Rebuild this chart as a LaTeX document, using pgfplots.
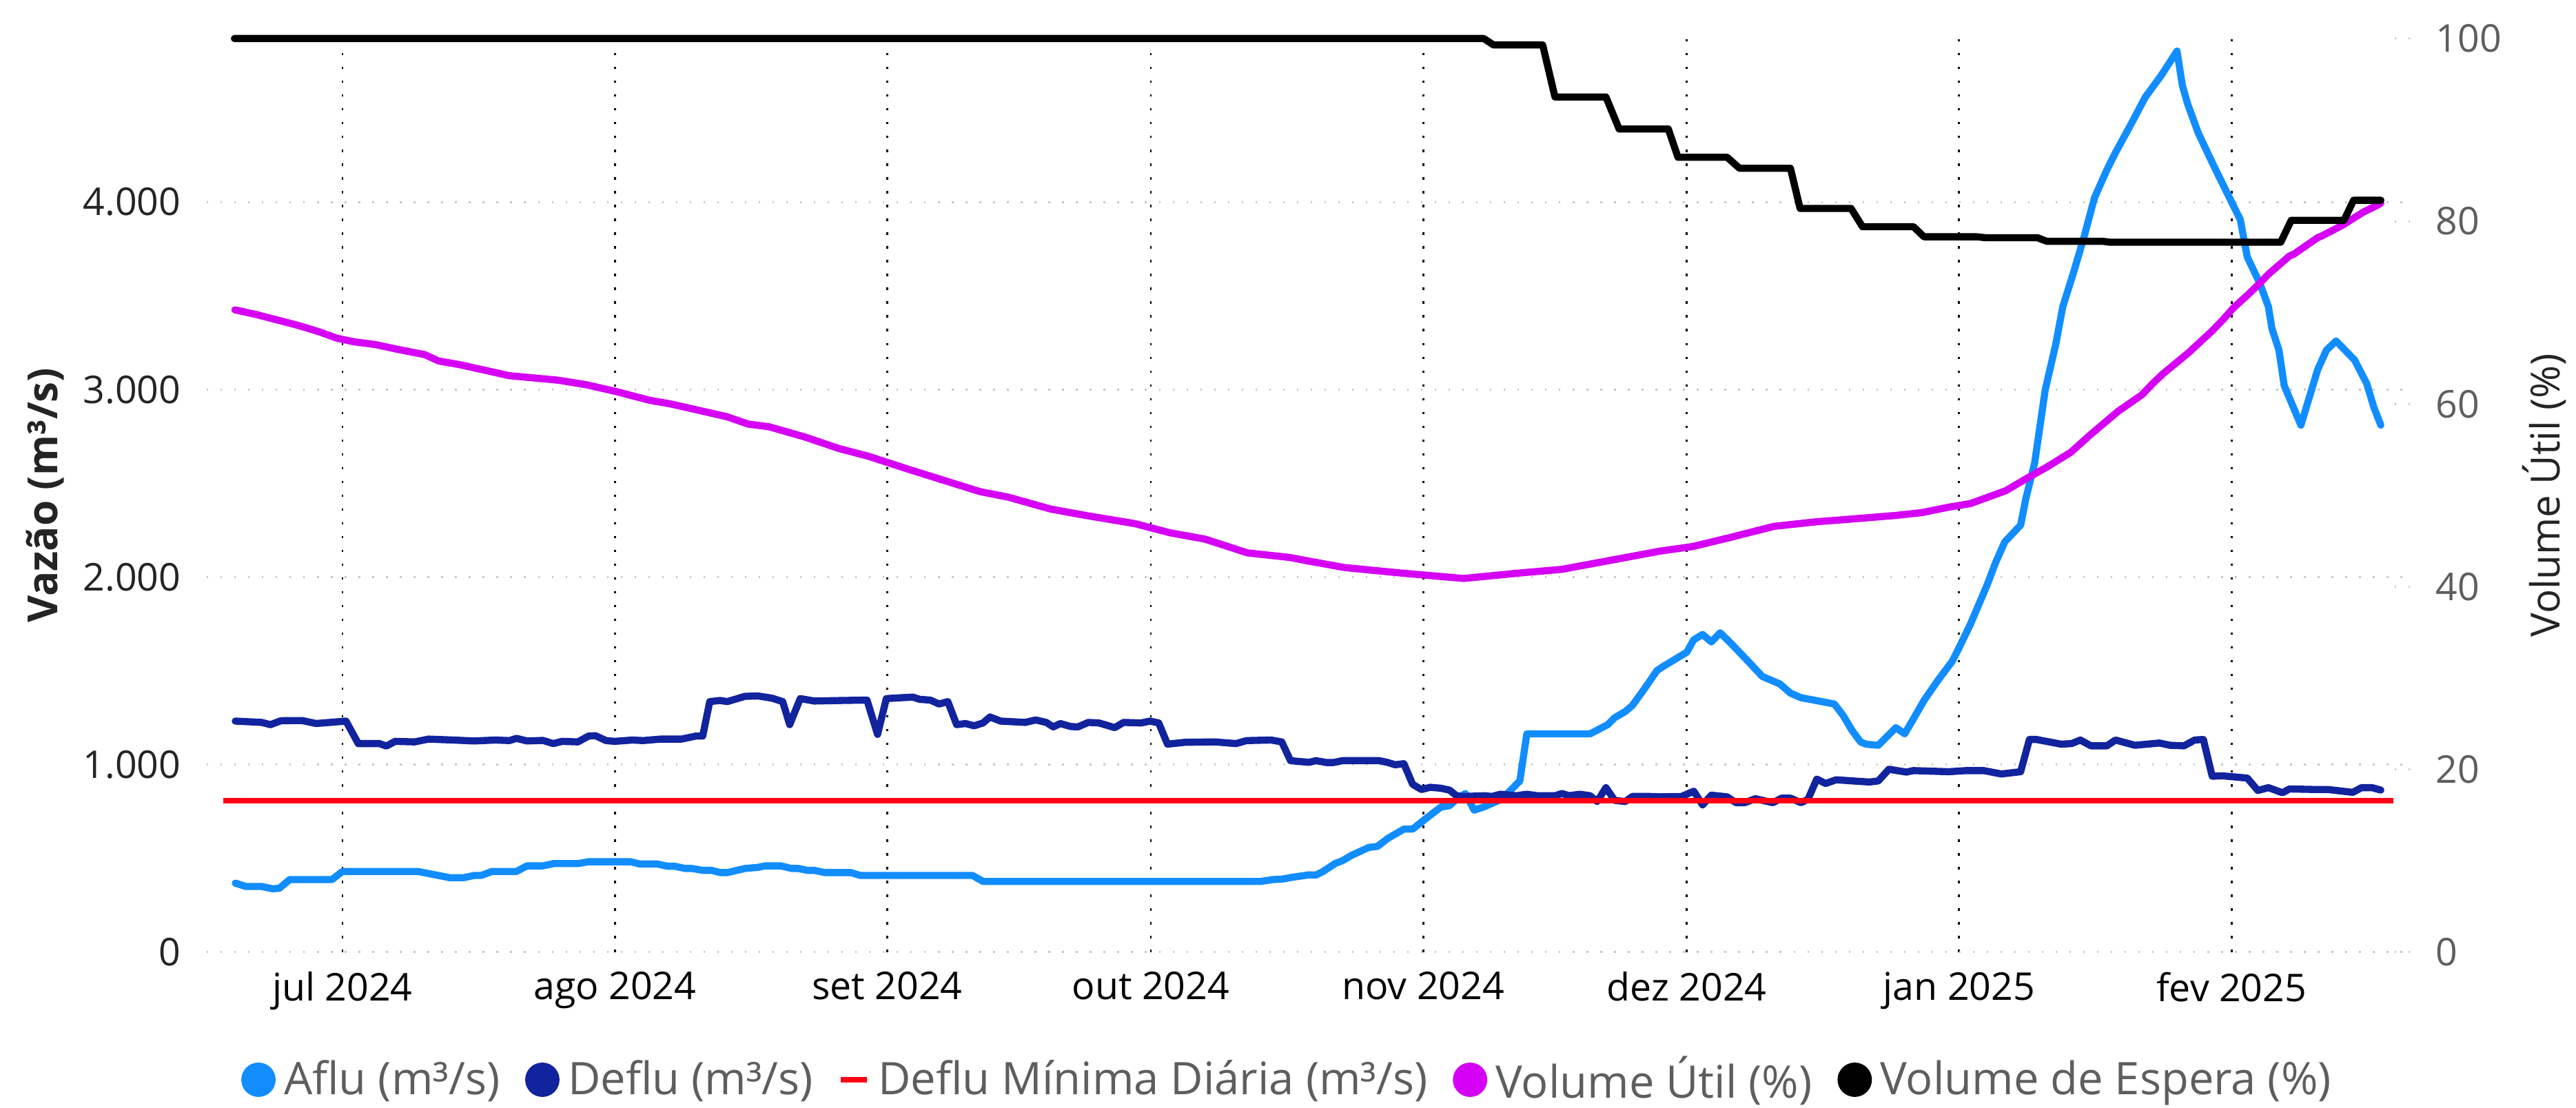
\documentclass[border=0pt]{standalone}
\usepackage{fontspec}
\setmainfont{Open Sans}
\usepackage{pgfplots}
\pgfplotsset{compat=1.18}
\definecolor{aflu}{HTML}{118DFF}
\definecolor{deflu}{HTML}{12239E}
\definecolor{dmin}{HTML}{FF0014}
\definecolor{vutil}{HTML}{D500F5}
\definecolor{vesp}{HTML}{000000}
\definecolor{tickgray}{HTML}{605E5C}
\definecolor{dark}{HTML}{252423}
\pgfplotsset{
  circleleg/.style={legend image code/.code={\fill (4.2pt,0pt) circle (4.2pt);}},
  dashleg/.style={legend image code/.code={\draw[line width=1.5pt,line cap=butt] (0pt,0pt) -- (8.1pt,0pt);}},
  serie/.style={line width=2.2pt, line join=round, line cap=round, mark=none},
}
\begin{document}
\begin{tikzpicture}
\path[use as bounding box] (-63.83pt,-48.09pt) rectangle (731.5pt,294.0pt);
\begin{axis}[
  at={(0pt,0pt)}, anchor=south west,
  width=680.2pt, height=282.1pt, scale only axis,
  xmin=-15.45, xmax=235.3, ymin=0, ymax=4872,
  axis line style={draw=none},
  tick style={draw=none},
  xtick={0,31,62,92,123,153,184,215},
  xticklabels={jul 2024,ago 2024,set 2024,out 2024,nov 2024,dez 2024,jan 2025,fev 2025},
  ytick={0,1000,2000,3000,4000},
  yticklabels={0,1.000,2.000,3.000,4.000},
  xmajorgrids, ymajorgrids,
  x grid style={black, line width=0.6pt, dash pattern=on 0.7pt off 3.56pt},
  y grid style={black!22, line width=0.65pt, dash pattern=on 0.5pt off 3.76pt},
  xticklabel style={font=\fontsize{11.8}{14}\selectfont, text=black, yshift=-2.6pt},
  yticklabel style={font=\fontsize{11.8}{14}\selectfont, text=dark, xshift=-4.5pt},
  ylabel={\bfseries Vazão (m³/s)},
  ylabel style={at={(axis description cs:-0.0735,0.5)}, anchor=center, font=\fontsize{12.8}{15}\selectfont, text=dark},
]
\addplot[serie, color=aflu] coordinates {
(-12.2,368) (-11,350) (-9.2,350) (-8,338) (-7.2,340) (-6,387) (-1.2,387) (0,430) (8.6,430)
(12.2,397) (13.8,397) (15,409) (15.8,409) (17,430) (19.8,430) (21,460) (22.8,460) (24,472)
(26.8,472) (28,482) (32.8,482) (33.8,470) (35.8,470) (37,458) (37.8,458) (39,446) (39.8,446)
(41,436) (42,436) (43,424) (43.8,424) (45.8,446) (47.3,452) (48.1,460) (49.9,460) (51.1,446)
(51.9,446) (52.9,436) (53.7,436) (54.9,424) (57.9,424) (58.9,409) (71.7,409) (72.9,377)
(104.5,377) (105.9,387) (106.9,389) (108.1,399) (110,412) (110.8,411) (111.6,430) (113,473)
(113.8,487) (114.8,515) (116.8,558) (117.8,564) (119,607) (120.8,656) (121.8,656) (123.2,708)
(125,773) (126,781) (126.8,815) (127.8,846) (128.8,757) (130,776) (131.6,809) (132.4,837)
(134,913) (134.8,1164) (142,1164) (144,1213) (144.8,1250) (146,1283) (146.8,1315) (147.8,1379)
(148.8,1446) (149.6,1501) (150.4,1526) (153,1599) (153.8,1666) (154.8,1694) (155.8,1654)
(156.8,1703) (158,1648) (160,1550) (161.6,1470) (163.6,1430) (164.8,1381) (166,1357)
(169.8,1323) (170.8,1262) (171.8,1183) (172.8,1120) (173.4,1109) (174.8,1103) (176.8,1197)
(177.8,1164) (178.8,1244) (180,1342) (181.6,1450) (183.2,1550) (184,1624) (185.3,1750)
(187.2,1960) (188.2,2083) (189.2,2188) (191,2277) (191.6,2420) (192.6,2610) (193.8,2999)
(195,3242) (195.8,3442) (197,3621) (198.2,3811) (199.4,4022) (200.8,4170) (201.8,4264)
(203.4,4401) (205.2,4560) (207,4675) (208.8,4805) (209.4,4623) (210,4524) (211.2,4370)
(213,4191) (215,4001) (216,3906) (216.8,3706) (218.2,3569) (219.2,3442) (219.6,3326)
(220.4,3210) (221,3021) (222.9,2810) (224.8,3105) (225.8,3210) (226.9,3259) (229,3158)
(230.4,3031) (231.2,2905) (232,2810)
};
\addplot[serie, color=deflu] coordinates {
(-12.2,1232) (-9.2,1225) (-8.2,1213) (-7,1234) (-4.6,1235) (-3,1219) (0.4,1232) (1.8,1112)
(4.2,1112) (5,1099) (6,1124) (8.2,1121) (9.8,1136) (12.6,1131) (15,1126) (17.4,1131) (19,1128)
(19.8,1140) (21,1126) (22.8,1129) (24,1112) (25,1124) (26.8,1121) (28,1152) (28.8,1154)
(30,1128) (31,1124) (33,1131) (34.2,1128) (36.2,1136) (38.6,1136) (40.2,1152) (41,1152)
(41.8,1336) (43,1342) (43.8,1336) (45.8,1364) (47.3,1366) (48.9,1354) (50.1,1336) (50.9,1213)
(52.1,1352) (53.7,1339) (56.9,1342) (59.7,1344) (60.9,1161) (61.9,1352) (64.9,1360) (65.7,1348)
(66.9,1344) (67.9,1323) (68.9,1336) (69.9,1213) (70.9,1219) (71.9,1207) (72.9,1222) (73.7,1254)
(74.9,1232) (77.7,1225) (78.9,1238) (80.1,1225) (80.9,1201) (81.7,1219) (82.9,1203) (83.7,1201)
(84.9,1225) (86.1,1222) (87.9,1197) (88.9,1225) (90.9,1222) (91.9,1232) (92.9,1222) (93.9,1109)
(95.9,1119) (99.3,1121) (101.7,1112) (102.9,1128) (105.7,1131) (106.9,1121) (107.9,1021)
(110,1012) (110.8,1021) (112,1011) (112.8,1011) (113.8,1021) (118,1021) (119,1011) (119.8,999)
(120.8,1005) (121.8,895) (122.8,867) (123.8,879) (125,874) (126,864) (126.8,834) (127.6,830)
(130,834) (130.8,830) (131.8,842) (133.6,834) (134.8,842) (136,834) (138,834) (138.8,846)
(139.6,834) (140.8,842) (142,834) (142.8,803) (143.8,877) (144.8,809) (146,803) (146.8,830)
(148.8,830) (150,828) (152.4,830) (153.8,858) (154.8,785) (155.8,837) (157.6,828) (158.6,797)
(159.6,797) (160.8,818) (162.8,797) (163.8,821) (164.8,821) (166,797) (166.8,815) (167.8,923)
(168.8,899) (170,919) (172.8,910) (173.8,907) (174.8,913) (176,975) (178,960) (178.8,968)
(182.8,962) (184.8,968) (186.8,968) (188.8,950) (191,962) (192,1134) (192.8,1134) (195.6,1109)
(196.8,1112) (197.8,1131) (199,1100) (200.8,1100) (201.8,1131) (204,1103) (206.8,1115)
(208,1103) (209.6,1100) (210.8,1131) (211.8,1134) (212.8,938) (214,940) (216.8,928) (218,862)
(219.2,877) (220.8,850) (221.6,870) (224.8,867) (226,867) (228.8,852) (229.8,877) (231,877)
(232,864)
};
\addplot[line width=1.6pt, line cap=butt, color=dmin, mark=none] coordinates {(-13.6,807) (233.4,807)};
\end{axis}
\begin{axis}[
  at={(0pt,0pt)}, anchor=south west,
  width=680.2pt, height=282.1pt, scale only axis,
  xmin=-15.45, xmax=235.3, ymin=0, ymax=100,
  axis x line=none, axis y line*=right,
  axis line style={draw=none},
  xtick=\empty,
  ytick={0,20,40,60,80,100}, yticklabels={0,20,40,60,80,100},
  tick align=inside, major tick length=5.1pt,
  ytick style={black!22, line width=0.65pt, dash pattern=on 0.5pt off 3.76pt},
  yticklabel style={font=\fontsize{11.8}{14}\selectfont, text=tickgray, xshift=4.5pt},
  ylabel={Volume Útil (\%)},
  ylabel style={at={(axis description cs:1.061,0.5)}, anchor=center, font=\fontsize{12.4}{15}\selectfont, text=dark},
  clip=false,
  legend columns=5,
  legend cell align=left,
  legend style={at={(axis description cs:0.4905,-0.1397)}, anchor=center, draw=none, fill=none,
    font=\fontsize{13.85}{16}\selectfont,
    nodes={inner sep=0.6pt, text=tickgray},
    /tikz/every even column/.append style={column sep=7.2pt},
    /tikz/every odd column/.append style={column sep=2pt}},
]
\addlegendimage{serie, color=aflu, circleleg}
\addlegendentry{Aflu (m³/s)}
\addlegendimage{serie, color=deflu, circleleg}
\addlegendentry{Deflu (m³/s)}
\addlegendimage{color=dmin, dashleg}
\addlegendentry{Deflu Mínima Diária (m³/s)}
\addplot[serie, color=vutil, circleleg] coordinates {
(-12.25,70.3) (-9.85,69.8) (-7.45,69.2) (-5.05,68.6) (-2.65,67.9) (-0.65,67.2) (1.35,66.8)
(3.76,66.5) (6.16,66.0) (9.36,65.4) (10.96,64.7) (13.36,64.3) (16.16,63.7) (18.96,63.1)
(24.57,62.6) (27.77,62.1) (30.97,61.4) (34.97,60.4) (37.37,60.0) (40.57,59.3) (43.77,58.6)
(46.17,57.8) (48.57,57.5) (52.57,56.4) (56.58,55.1) (59.78,54.3) (64.58,52.8) (68.58,51.6)
(72.58,50.4) (75.78,49.8) (80.58,48.5) (84.58,47.8) (90.19,46.9) (94.19,45.9) (98.19,45.2)
(103,43.7) (107.8,43.2) (110,42.8) (114,42.1) (120.4,41.5) (127.6,40.9) (134,41.5) (138.8,41.9)
(144.4,42.9) (150,43.9) (153.7,44.4) (158,45.4) (162.9,46.6) (167.7,47.1) (171.7,47.4)
(176.8,47.8) (179.7,48.1) (182.8,48.7) (185.3,49.1) (187,49.7) (189.3,50.5) (191.6,51.8)
(194,53.1) (196.7,54.7) (198.9,56.6) (202.1,59.2) (204.8,61.0) (206.1,62.3) (207.2,63.3)
(210.1,65.6) (212.8,68.0) (214.1,69.3) (215.2,70.5) (216.8,71.9) (218.1,73.1) (219.2,74.2)
(221.6,76.2) (222.1,76.4) (224.8,78.2) (225.3,78.4) (227.7,79.6) (230,81.0) (231.7,81.8) (232,82.0)
};
\addlegendentry{Volume Útil (\%)}
\addplot[serie, color=vesp, circleleg] coordinates {
(-12.3,100) (129.9,100) (131,99.3) (136.6,99.3) (138,93.6) (143.8,93.6) (145.3,90.1) (150.9,90.1)
(152,87.0) (157.6,87.0) (159,85.8) (164.8,85.8) (165.9,81.4) (171.7,81.4) (173,79.4) (178.8,79.4)
(180,78.3) (186,78.3) (187,78.2) (192.9,78.2) (194,77.8) (200.4,77.8) (201.2,77.7) (220.6,77.7)
(221.8,80.1) (227.8,80.1) (228.9,82.3) (232,82.3)
};
\addlegendentry{Volume de Espera (\%)}
\end{axis}
\end{tikzpicture}
\end{document}
